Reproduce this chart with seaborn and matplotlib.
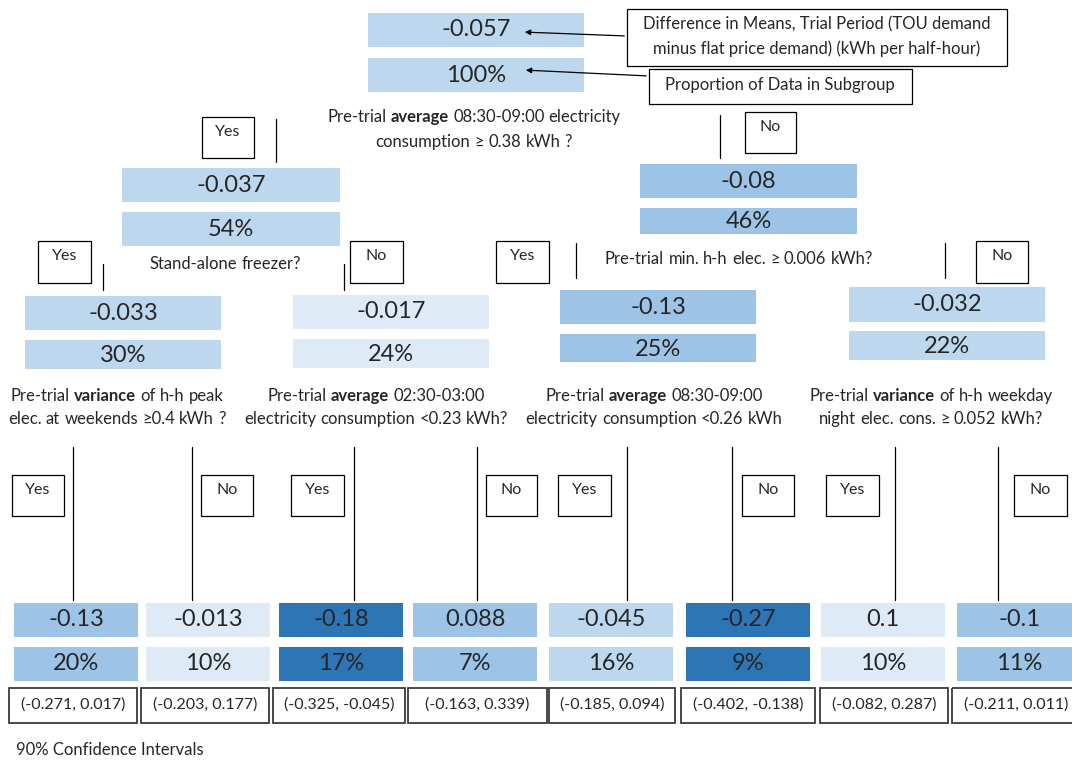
import matplotlib.pyplot as plt
import seaborn as sns
from matplotlib.patches import Rectangle

# ---- data ----
node_values = [-0.057, -0.037, -0.08, -0.033, -0.017, -0.13, -0.032]
node_shares = [100, 54, 46, 30, 24, 25, 22]

leaf_values = [-0.13, -0.013, -0.18, 0.088, -0.045, -0.27, 0.1, -0.1]
leaf_shares = [20, 10, 17, 7, 16, 9, 10, 11]
ci_low = [-0.271, -0.203, -0.325, -0.163, -0.185, -0.402, -0.082, -0.211]
ci_high = [0.017, 0.177, -0.045, 0.339, 0.094, -0.138, 0.287, 0.011]

questions = [
    ["Pre-trial **average** 08:30-09:00 electricity", "consumption ≥ 0.38 kWh ?"],
    ["Stand-alone freezer?"],
    ["Pre-trial min. h-h elec. ≥ 0.006 kWh?"],
    ["Pre-trial **variance** of h-h peak", "elec. at weekends ≥0.4 kWh ?"],
    ["Pre-trial **average** 02:30-03:00", "electricity consumption <0.23 kWh?"],
    ["Pre-trial **average** 08:30-09:00", "electricity consumption <0.26 kWh"],
    ["Pre-trial **variance** of h-h weekday", "night elec. cons. ≥ 0.052 kWh?"],
]
legend_mean = ["Difference in Means, Trial Period (TOU demand",
               "minus flat price demand) (kWh per half-hour)"]
legend_share = "Proportion of Data in Subgroup"
ci_caption = "90% Confidence Intervals"

# ---- layout (pixel space, y downwards) ----
VERY_LIGHT, LIGHT, MID, DARK = "#deebf7", "#bdd7ee", "#9dc3e6", "#2e75b6"
node_colors = [LIGHT, LIGHT, MID, LIGHT, VERY_LIGHT, MID, LIGHT]
leaf_colors = [MID, VERY_LIGHT, DARK, MID, LIGHT, DARK, VERY_LIGHT, MID]

# x0, x1, value box (top, bottom), share box (top, bottom)
node_boxes = [
    (368, 584, 13, 47, 58, 92),
    (122, 340, 168, 202, 212, 246),
    (640, 857, 164, 198, 208, 234),
    (25, 221, 296, 330, 340, 369),
    (293, 489, 295, 329, 339, 368),
    (560, 756, 290, 324, 334, 362),
    (849, 1045, 287, 322, 331, 360),
]
leaf_x = [(14, 138), (146, 270), (279, 403), (413, 537),
          (549, 673), (686, 810), (821, 945), (957, 1081)]
ci_x = [(9, 137), (141, 269), (273, 405), (408, 547),
        (549, 675), (681, 815), (820, 948), (952, 1080)]
question_pos = [(474, [117, 142]), (225, [264]), (739, [259]),
                (117, [396, 419]), (376, [396, 419]),
                (654, [396, 419]), (931, [396, 419])]

# (label, x0, x1, y0, y1)
answer_boxes = [
    ("Yes", 202, 254, 117, 158), ("No", 745, 796, 112, 153),
    ("Yes", 38, 91, 241, 283), ("No", 350, 403, 241, 283),
    ("Yes", 496, 549, 241, 283), ("No", 976, 1028, 241, 283),
    ("Yes", 12, 64, 475, 516), ("No", 201, 253, 475, 516),
    ("Yes", 291, 344, 475, 516), ("No", 486, 537, 475, 516),
    ("Yes", 558, 611, 475, 516), ("No", 742, 794, 475, 516),
    ("Yes", 826, 879, 475, 516), ("No", 1014, 1067, 475, 516),
]
# (x, y0, y1)
branch_lines = [
    (276, 119, 162), (720, 115, 158),
    (103, 264, 290), (344, 264, 290), (576, 243, 278), (945, 243, 278),
    (73, 447, 600), (192, 447, 600), (354, 447, 600), (477, 447, 600),
    (627, 447, 600), (732, 447, 600), (895, 447, 600), (998, 447, 600),
]


def rich_line(ax, renderer, cx, y, line, size):
    # split "**bold**" markup, lay words out left to right, centre the line
    words = []
    for i, chunk in enumerate(line.split("**")):
        for w in chunk.split():
            words.append((w, "bold" if i % 2 else "normal"))
    probe = ax.text(0, 0, "a a", fontsize=size)
    probe2 = ax.text(0, 0, "aa", fontsize=size)
    space = (probe.get_window_extent(renderer).width
             - probe2.get_window_extent(renderer).width)
    probe.remove()
    probe2.remove()
    items = []
    for w, weight in words:
        t = ax.text(0, y, w, fontsize=size, fontweight=weight,
                    ha="left", va="center")
        items.append((t, t.get_window_extent(renderer).width))
    total = sum(wd for _, wd in items) + space * (len(items) - 1)
    x = cx - total / 2
    for t, wd in items:
        t.set_x(x)
        x += wd + space


def main() -> None:
    sns.set_theme(style="white")
    plt.rcParams["font.family"] = ["Lato", "DejaVu Sans"]

    fig = plt.figure(figsize=(10.72, 7.6), dpi=100)
    ax = fig.add_axes([0, 0, 1, 1])
    ax.set_xlim(0, 1072)
    ax.set_ylim(760, 0)
    ax.axis("off")
    renderer = fig.canvas.get_renderer()

    for val, share, col, (x0, x1, v0, v1, s0, s1) in zip(
            node_values, node_shares, node_colors, node_boxes):
        ax.add_patch(Rectangle((x0, v0), x1 - x0, v1 - v0, color=col, lw=0))
        ax.add_patch(Rectangle((x0, s0), x1 - x0, s1 - s0, color=col, lw=0))
        ax.text((x0 + x1) / 2, (v0 + v1) / 2, f"{val:g}", fontsize=17,
                ha="center", va="center")
        ax.text((x0 + x1) / 2, (s0 + s1) / 2 + 1, f"{share}%", fontsize=17,
                ha="center", va="center")

    for val, share, col, (x0, x1), lo, hi, (c0, c1) in zip(
            leaf_values, leaf_shares, leaf_colors, leaf_x,
            ci_low, ci_high, ci_x):
        ax.add_patch(Rectangle((x0, 603), x1 - x0, 34, color=col, lw=0))
        ax.add_patch(Rectangle((x0, 647), x1 - x0, 34, color=col, lw=0))
        ax.text((x0 + x1) / 2, 620, f"{val:g}", fontsize=17,
                ha="center", va="center")
        ax.text((x0 + x1) / 2, 664, f"{share}%", fontsize=17,
                ha="center", va="center")
        ax.add_patch(Rectangle((c0, 688), c1 - c0, 35, fill=False,
                               ec="#3a3a3a", lw=1.3))
        ax.text((c0 + c1) / 2, 705, f"({lo:.3f}, {hi:.3f})", fontsize=11.5,
                ha="center", va="center")

    for lines, (cx, ys) in zip(questions, question_pos):
        for line, y in zip(lines, ys):
            rich_line(ax, renderer, cx, y, line, 12)

    for label, x0, x1, y0, y1 in answer_boxes:
        ax.add_patch(Rectangle((x0, y0), x1 - x0, y1 - y0, fill=False,
                               ec="black", lw=0.9))
        ax.text((x0 + x1) / 2, y0 + 15, label, fontsize=11.5,
                ha="center", va="center")

    for x, y0, y1 in branch_lines:
        ax.plot([x, x], [y0, y1], color="black", lw=0.9)

    # explanatory callouts
    ax.add_patch(Rectangle((627, 9), 380, 57, fill=False, ec="black", lw=0.9))
    ax.text(817, 24, legend_mean[0], fontsize=12, ha="center", va="center")
    ax.text(817, 49, legend_mean[1], fontsize=12, ha="center", va="center")
    ax.add_patch(Rectangle((649, 69), 263, 35, fill=False, ec="black", lw=0.9))
    ax.text(780, 85, legend_share, fontsize=12, ha="center", va="center")
    arrow = dict(arrowstyle="-|>", color="black", lw=0.9, mutation_scale=8)
    ax.annotate("", xy=(522, 32), xytext=(627, 36), arrowprops=arrow)
    ax.annotate("", xy=(523, 70), xytext=(649, 76), arrowprops=arrow)

    ax.text(16, 750, ci_caption, fontsize=12, ha="left", va="center")

    fig.savefig("out.png", dpi=100)
    plt.close(fig)


if __name__ == "__main__":
    main()
